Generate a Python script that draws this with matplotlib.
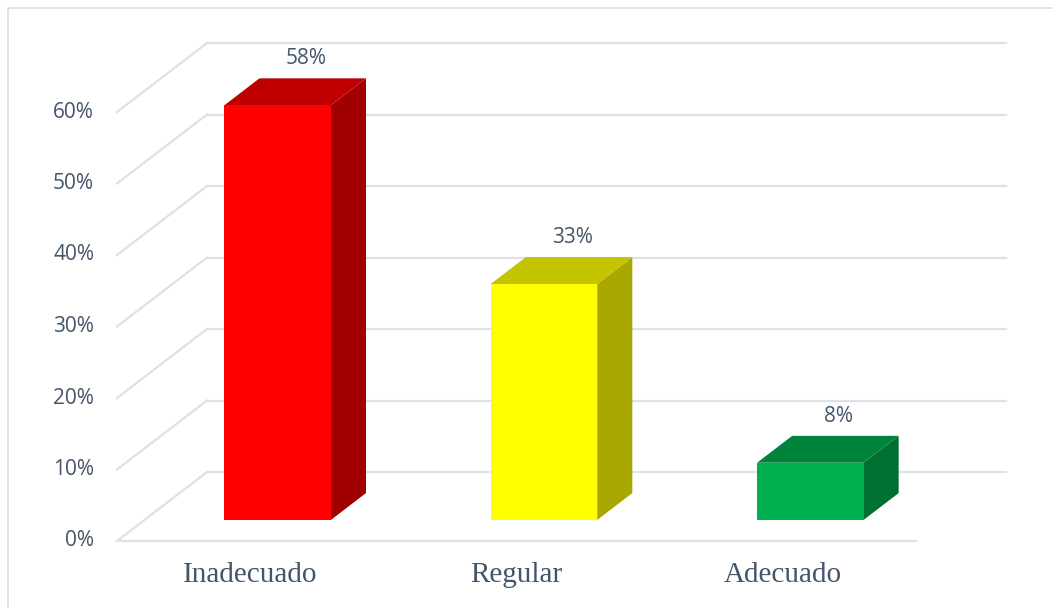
''' 3D-looking bar chart (Excel style) drawn with plain 2D patches
'''
import matplotlib
import matplotlib.pyplot as plt
from matplotlib.patches import Polygon, Rectangle

matplotlib.use('Agg')

categories = ['Inadecuado', 'Regular', 'Adecuado']
values = [58, 33, 8]
value_labels = ['58%', '33%', '8%']
y_ticks = [0, 10, 20, 30, 40, 50, 60]
y_tick_labels = ['0%', '10%', '20%', '30%', '40%', '50%', '60%']

front_colors = ['#ff0000', '#ffff00', '#00b050']
top_colors = ['#c00000', '#c4c400', '#00843c']
side_colors = ['#a00000', '#a8a800', '#007030']

GRID_COLOR = '#dde1e8'
TEXT_COLOR = '#44546a'

W, H = 1053, 608
DEPTH_DX = 0.338   # x shift (category units) of full floor depth
DEPTH_DY = 9.65    # y shift (percent units) of full floor depth
BAR_FRONT = 0.305  # depth fraction of bar front face
BAR_DEPTH = 0.39   # depth fraction taken by bar
BAR_WIDTH = 0.40

fig = plt.figure(figsize=(W / 100, H / 100), dpi=100)
fig.patches.append(Rectangle((8 / W, -0.1), 1.2, 1 - 8 / H + 0.1,
                             transform=fig.transFigure, fill=False,
                             edgecolor='#d9dde4', linewidth=1.2))

# axes = front plane of the floor
ax = fig.add_axes([117 / W, (H - 541) / H, (916 - 117) / W, (541 - 112) / H])
ax.set_xlim(-0.5, len(categories) - 0.5)
ax.set_ylim(0, 60)
ax.axis('off')

x_left, x_right = -0.5, len(categories) - 0.5

# back wall gridlines and side diagonals
for v, lab in zip(y_ticks, y_tick_labels):
    ax.plot([x_left + DEPTH_DX, x_right + DEPTH_DX], [v + DEPTH_DY, v + DEPTH_DY],
            color=GRID_COLOR, lw=1.6, clip_on=False, zorder=1)
    ax.plot([x_left, x_left + DEPTH_DX], [v, v + DEPTH_DY],
            color=GRID_COLOR, lw=1.6, clip_on=False, zorder=1)
    ax.annotate(lab, (x_left, v), xytext=(-16.5, 0), annotation_clip=False,
                textcoords='offset points', ha='right', va='center',
                fontsize=15, family='Open Sans', color=TEXT_COLOR)

# front floor edge
ax.plot([x_left, x_right], [0, 0], color=GRID_COLOR, lw=1.6, clip_on=False, zorder=1)

bdx = BAR_DEPTH * DEPTH_DX
bdy = BAR_DEPTH * DEPTH_DY
for i, v in enumerate(values):
    xl = i - BAR_WIDTH / 2 + BAR_FRONT * DEPTH_DX
    xr = xl + BAR_WIDTH
    yb = BAR_FRONT * DEPTH_DY
    yt = yb + v
    ax.add_patch(Polygon([(xr, yb), (xr + bdx, yb + bdy), (xr + bdx, yt + bdy), (xr, yt)],
                         closed=True, facecolor=side_colors[i], edgecolor='none',
                         clip_on=False, zorder=3))
    ax.add_patch(Polygon([(xl, yt), (xr, yt), (xr + bdx, yt + bdy), (xl + bdx, yt + bdy)],
                         closed=True, facecolor=top_colors[i], edgecolor='none',
                         clip_on=False, zorder=3))
    ax.add_patch(Rectangle((xl, yb), BAR_WIDTH, v, facecolor=front_colors[i],
                           edgecolor='none', clip_on=False, zorder=4))
    ax.annotate(value_labels[i], ((xl + xr + bdx) / 2, yt + bdy), xytext=(8, 14),
                textcoords='offset points', ha='center', va='center',
                annotation_clip=False,
                fontsize=15, family='Open Sans', color=TEXT_COLOR)

for i, name in enumerate(categories):
    ax.annotate(name, (i, 0), xytext=(0, -24.5), textcoords='offset points',
                ha='center', va='center', fontsize=21, annotation_clip=False,
                family='Liberation Serif', color=TEXT_COLOR)

plt.savefig('out.png', dpi=100)
plt.close()
